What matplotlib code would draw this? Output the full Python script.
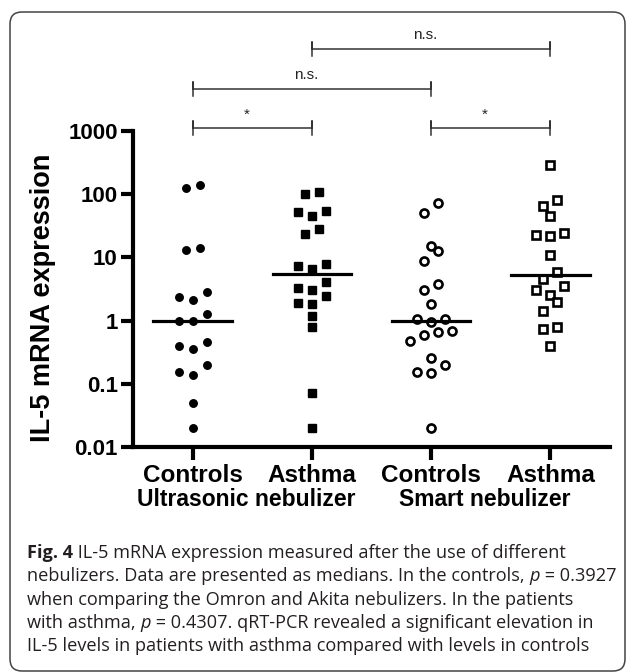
import numpy as np
import matplotlib
matplotlib.use("Agg")
import matplotlib.pyplot as plt
from matplotlib.patches import FancyBboxPatch
from matplotlib.transforms import blended_transform_factory

# data (IL-5 relative mRNA expression)
group_labels = ["Controls", "Asthma", "Controls", "Asthma"]
device_labels = ["Ultrasonic nebulizer", "Smart nebulizer"]

us_controls = [140, 126, 14, 13.2, 2.8, 2.4, 2.1, 1.28, 1.0, 1.0,
               0.46, 0.40, 0.36, 0.196, 0.155, 0.138, 0.049, 0.020]
us_asthma = [110, 102, 55, 53, 45.6, 28, 23.4, 7.9, 7.4, 6.6,
             4.15, 3.26, 3.07, 2.49, 1.93, 1.82, 1.19, 0.80, 0.071, 0.020]
smart_controls = [72, 51, 15.4, 12.4, 8.8, 3.8, 3.07, 1.84, 1.06, 1.05,
                  0.95, 0.69, 0.65, 0.59, 0.48, 0.26, 0.196, 0.156, 0.147, 0.020]
smart_asthma = [295, 80, 66, 44.6, 24.3, 22.5, 21.9, 11, 5.9, 4.5,
                3.55, 3.07, 2.55, 1.98, 1.44, 0.785, 0.74, 0.39]

yticks = [0.01, 0.1, 1, 10, 100, 1000]
ytick_labels = ["0.01", "0.1", "1", "10", "100", "1000"]

# (group a, group b, label, bracket level)
comparisons = [(1, 3, "n.s.", 2), (0, 2, "n.s.", 1), (0, 1, "*", 0), (2, 3, "*", 0)]

caption = [
    [("Fig. 4", "bold"), (" IL-5 mRNA expression measured after the use of different", "normal")],
    [("nebulizers. Data are presented as medians. In the controls, ", "normal"),
     ("p", "italic"), (" = 0.3927", "normal")],
    [("when comparing the Omron and Akita nebulizers. In the patients", "normal")],
    [("with asthma, ", "normal"), ("p", "italic"),
     (" = 0.4307. qRT-PCR revealed a significant elevation in", "normal")],
    [("IL-5 levels in patients with asthma compared with levels in controls", "normal")],
]

W, H = 627, 672
fig = plt.figure(figsize=(W / 100, H / 100), dpi=100)
plt.rcParams["font.family"] = ["Liberation Sans", "DejaVu Sans"]

# frame round the figure + caption (in inches)
frame = FancyBboxPatch((0.10, 0.01), 6.15, 6.59,
                       boxstyle="round,pad=0,rounding_size=0.12",
                       transform=fig.dpi_scale_trans, fill=False,
                       edgecolor="#444444", linewidth=1.1, clip_on=False)
fig.patches.append(frame)

ax_left, ax_right, ax_top, ax_bot = 133, 610, 131, 447
ax = fig.add_axes([ax_left / W, 1 - ax_bot / H, (ax_right - ax_left) / W, (ax_bot - ax_top) / H])
ax.set_yscale("log")
ax.set_ylim(0.01, 1000)
ax.set_xlim(-0.5, 3.5)

px_per_x = (ax_right - ax_left) / 4.0
px_per_dec = (ax_bot - ax_top) / 5.0


def swarm_offsets(values, row_px=10.5, step_px=14.0):
    v = np.asarray(values, float)
    order = np.argsort(v)
    rows, start = [], None
    for i in order:
        y = np.log10(v[i]) * px_per_dec
        if start is None or y - start > row_px:
            rows.append([])
            start = y
        rows[-1].append(i)
    off = np.zeros(len(v))
    for row in rows:
        n = len(row)
        slots = list(np.arange(n) - (n - 1) / 2)
        if n % 2 == 1:
            slots = sorted(slots, key=lambda s: (abs(s), s))
        for i, s in zip(row, slots):
            off[i] = s * step_px / px_per_x
    return off


series = [us_controls, us_asthma, smart_controls, smart_asthma]
styles = [
    dict(marker="o", ms=5.4, mfc="black", mec="black", mew=1.0),
    dict(marker="s", ms=6.2, mfc="black", mec="black", mew=1.0),
    dict(marker="o", ms=5.8, mfc="white", mec="black", mew=1.9),
    dict(marker="s", ms=5.8, mfc="white", mec="black", mew=1.9),
]
for i, vals in enumerate(series):
    x = i + swarm_offsets(vals)
    ax.plot(x, vals, linestyle="none", zorder=3, clip_on=False, **styles[i])
    med = np.median(vals)
    ax.plot([i - 0.33, i + 0.33], [med, med], color="black", lw=2.3, zorder=4)

for side in ["top", "right"]:
    ax.spines[side].set_visible(False)
for side in ["left", "bottom"]:
    ax.spines[side].set_linewidth(3.0)
ax.set_yticks(yticks)
ax.set_yticklabels(ytick_labels)
ax.yaxis.set_minor_locator(matplotlib.ticker.NullLocator())
ax.set_xticks(range(len(group_labels)))
ax.set_xticklabels(group_labels)
ax.tick_params(axis="both", length=9, width=3.0, labelsize=16, pad=2)
ax.tick_params(axis="x", labelsize=17.5, pad=3)
for lab in ax.get_xticklabels() + ax.get_yticklabels():
    lab.set_fontweight("bold")

fig.text(43 / W, 1 - 298 / H, "IL-5 mRNA expression", rotation=90, ha="center", va="center",
         fontsize=19.5, fontweight="bold")

trans = blended_transform_factory(ax.transData, fig.transFigure)
for (x0, x1), name in zip([(0, 1), (2, 3)], device_labels):
    ax.text((x0 + x1) / 2 - 0.05, 1 - 500 / H, name, transform=trans,
            ha="center", va="center", fontsize=16.5, fontweight="bold")

# significance brackets
base_px, level_px, tip_px = 128.3, 39.5, 7
for a, b, lab, lvl in comparisons:
    yb = 1 - (base_px - lvl * level_px) / H
    tip = tip_px / H
    ax.plot([a, a, a, b, b, b], [yb - tip, yb + tip, yb, yb, yb + tip, yb - tip],
            transform=trans, color="#333333", lw=1.1, clip_on=False)
    ax.text((a + b) / 2 - 0.05, yb + 7 / H, lab, transform=trans, ha="center", va="bottom",
            fontsize=11, color="#222222")

# caption with mixed styles
fig.canvas.draw()
renderer = fig.canvas.get_renderer()
cap_x, cap_y0, cap_dy = 27, 553, 23.3
for k, line in enumerate(caption):
    x = cap_x
    y = 1 - (cap_y0 + k * cap_dy) / H
    for txt, st in line:
        t = fig.text(x / W, y, txt, fontsize=13.05, va="center", ha="left", color="#231f20",
                     family=["Open Sans", "DejaVu Sans"],
                     fontweight="bold" if st == "bold" else "normal",
                     fontstyle="italic" if st == "italic" else "normal")
        bb = t.get_window_extent(renderer)
        x += bb.width

fig.savefig("out.png", dpi=100)
